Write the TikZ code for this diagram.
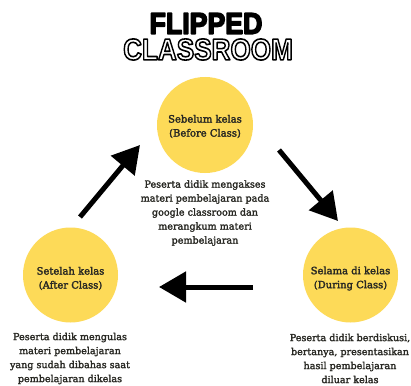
\documentclass[tikz,border=0pt]{standalone}
\usepackage{fontspec}
\setmainfont{DejaVu Serif}
\newfontfamily\titlefont{Liberation Sans}
\usetikzlibrary{arrows.meta}
\definecolor{circ}{RGB}{253,218,88}
\definecolor{txt}{RGB}{40,40,35}
\newcommand{\strk}[2]{\special{pdf:literal direct 2 Tr #1 w 1 j}#2\special{pdf:literal direct 0 Tr}}
\newcommand{\hollow}[2]{\special{pdf:literal direct 2 Tr #1 w 1 j 0 G}#2\special{pdf:literal direct 0 Tr}}
\tikzset{
  stage/.style={circle, fill=circ, minimum size=#1, inner sep=0pt},
  lab/.style={align=center, text=txt, font=\fontsize{10}{14}\selectfont, inner sep=0pt},
  desc/.style={align=center, text=txt, font=\fontsize{9.6}{14}\selectfont, inner sep=0pt},
  bigarrow/.style={line width=5pt, -{Triangle[length=27pt,width=30pt]}},
  ttl/.style={font=\titlefont\bfseries\fontsize{30}{30}\selectfont, inner sep=0pt, xscale=#1}
}
\begin{document}
\begin{tikzpicture}[x=1pt,y=-1pt]
\useasboundingbox[fill=white] (0,0) rectangle (411,385);
% title
\node[ttl=0.89] (t1) at (206,23.5) {\strk{1.6}{FLIPPED}};
\node[ttl=0.87, text=white] (t2) at (208,49.5) {\hollow{1.6}{CLASSROOM}};
% circles
\node[stage=96pt] (top) at (205,125) {};
\node[stage=95pt] (left) at (70.5,275) {};
\node[stage=95pt] (right) at (350.5,275) {};
\node[lab] (ltop) at (205,126.5) {\strk{0.25}{Sebelum kelas}\\\strk{0.25}{(Before Class)}};
\node[lab] (lleft) at (70.5,278.5) {\strk{0.25}{Setelah kelas}\\\strk{0.25}{(After Class)}};
\node[lab] (lright) at (350.5,278.5) {\strk{0.25}{Selama di kelas}\\\strk{0.25}{(During Class)}};
% descriptions
\node[desc] (dtop) at (205,213) {\strk{0.2}{Peserta didik mengakses}\\\strk{0.2}{materi pembelajaran pada}\\\strk{0.2}{google classroom dan}\\\strk{0.2}{merangkum materi}\\\strk{0.2}{pembelajaran}};
\node[desc] (dleft) at (70,358.5) {\strk{0.2}{Peserta didik mengulas}\\\strk{0.2}{materi pembelajaran}\\\strk{0.2}{yang sudah dibahas saat}\\\strk{0.2}{pembelajaran dikelas}};
\node[desc] (dright) at (350,358.5) {\strk{0.2}{Peserta didik berdiskusi,}\\\strk{0.2}{bertanya, presentasikan}\\\strk{0.2}{hasil pembelajaran}\\\strk{0.2}{diluar kelas}};
% arrows
\coordinate (a1s) at (80,217); \coordinate (a1e) at (140,145);
\coordinate (a2s) at (279,150); \coordinate (a2e) at (338,221);
\coordinate (a3s) at (253,287); \coordinate (a3e) at (159,287);
\draw[bigarrow] (a1s) -- (a1e);
\draw[bigarrow] (a2s) -- (a2e);
\draw[bigarrow] (a3s) -- (a3e);
\end{tikzpicture}
\end{document}
